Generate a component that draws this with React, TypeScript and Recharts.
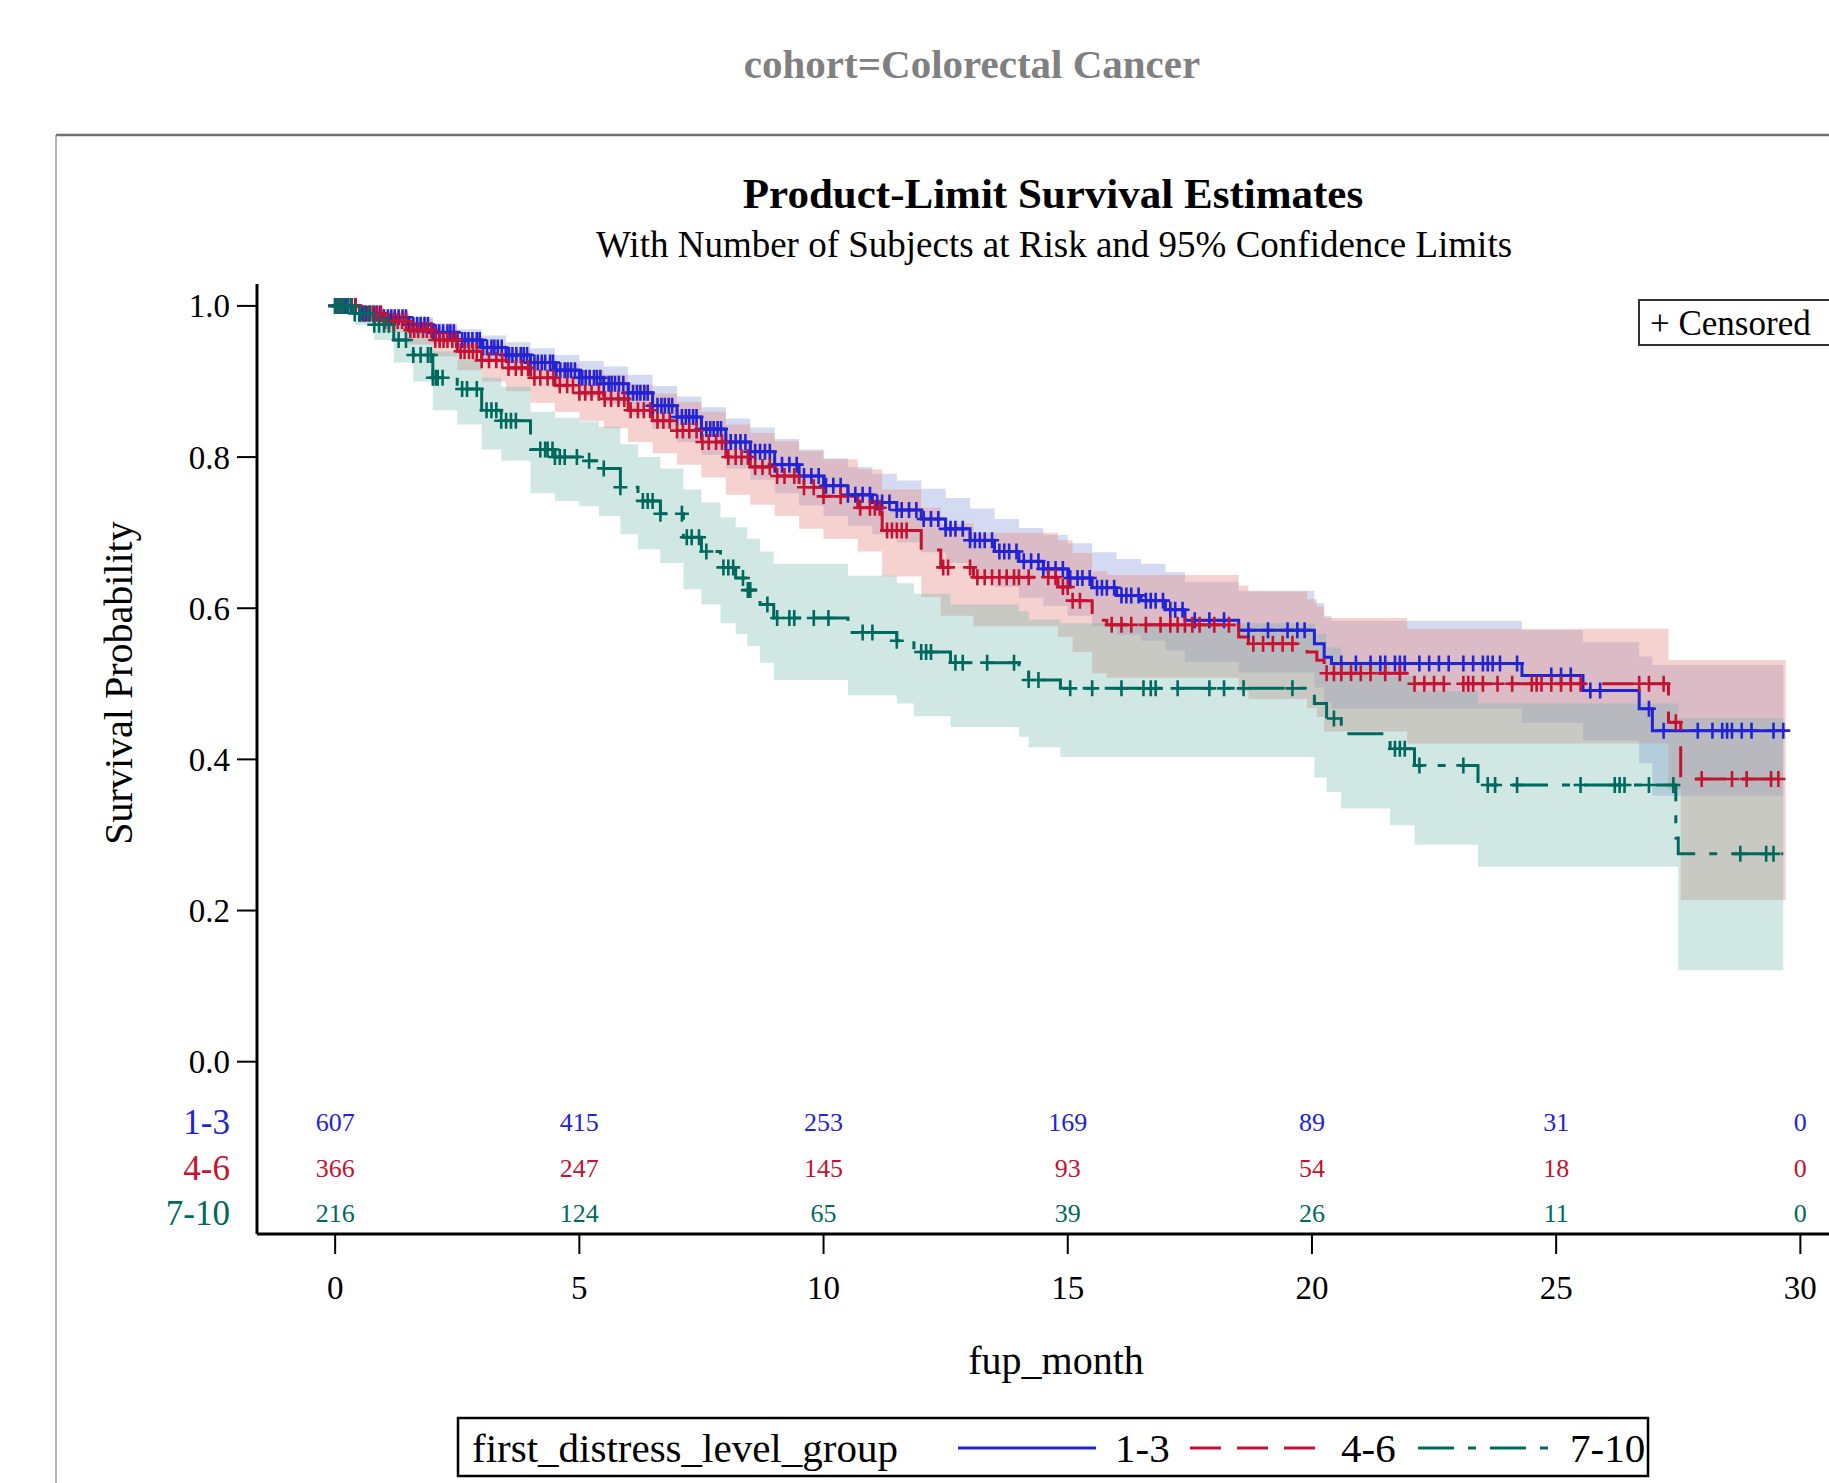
import React from 'react';
import { ComposedChart, Area, Line, Scatter, XAxis, YAxis } from 'recharts';

const FONT = '"Liberation Serif", "Times New Roman", serif';

const BLUE = '#2323D6';
const RED = '#C41230';
const GREEN = '#00695E';

// group labels and number at risk table
const groups = ['1-3', '4-6', '7-10'];
const riskTimes = [0, 5, 10, 15, 20, 25, 30];
const riskBlue = [607, 415, 253, 169, 89, 31, 0];
const riskRed = [366, 247, 145, 93, 54, 18, 0];
const riskGreen = [216, 124, 65, 39, 26, 11, 0];
const riskRowY = [-0.08, -0.141, -0.2];

const xTicks = [0, 5, 10, 15, 20, 25, 30];
const yTicks = [0, 0.2, 0.4, 0.6, 0.8, 1.0];

// 1-3
const blueTime = [0, 0.5, 1, 1.5, 2, 2.5, 3, 3.5, 4, 4.5, 5, 5.5, 6, 6.5, 7, 7.5, 8, 8.5, 9, 9.5, 10, 10.5, 11, 11.5, 12, 12.5, 13, 13.5, 14, 14.5, 15, 15.5, 16, 16.5, 17, 17.4, 18.5, 20.05, 20.25, 20.4, 24.3, 25.55, 26.7, 26.97, 29.65];
const blueSurv = [1, 0.99, 0.985, 0.975, 0.965, 0.955, 0.945, 0.935, 0.925, 0.915, 0.905, 0.897, 0.885, 0.868, 0.853, 0.837, 0.82, 0.807, 0.79, 0.775, 0.762, 0.75, 0.74, 0.73, 0.718, 0.705, 0.69, 0.675, 0.662, 0.652, 0.64, 0.627, 0.617, 0.61, 0.598, 0.584, 0.571, 0.553, 0.535, 0.527, 0.511, 0.491, 0.467, 0.438, 0.438];
const blueLo = [1, 0.982, 0.975, 0.962, 0.95, 0.938, 0.926, 0.914, 0.902, 0.891, 0.879, 0.87, 0.856, 0.837, 0.82, 0.803, 0.785, 0.77, 0.752, 0.736, 0.722, 0.709, 0.698, 0.687, 0.674, 0.66, 0.644, 0.628, 0.614, 0.603, 0.59, 0.576, 0.565, 0.557, 0.544, 0.529, 0.515, 0.495, 0.476, 0.467, 0.448, 0.425, 0.395, 0.352, 0.352];
const blueHi = [1, 0.996, 0.993, 0.985, 0.977, 0.969, 0.961, 0.952, 0.944, 0.935, 0.927, 0.92, 0.909, 0.894, 0.88, 0.866, 0.851, 0.839, 0.824, 0.81, 0.798, 0.787, 0.778, 0.769, 0.758, 0.746, 0.732, 0.718, 0.706, 0.697, 0.686, 0.674, 0.665, 0.659, 0.648, 0.635, 0.623, 0.607, 0.59, 0.583, 0.571, 0.555, 0.536, 0.525, 0.525];
const blueCensor = [
  0, 0.05, 0.12, 0.2, 0.27, 0.33, 0.41, 0.5, 0.56, 0.63, 0.71, 0.8, 0.86, 0.92, 1.0, 1.08, 1.15, 1.22, 1.3, 1.38, 1.45, 1.52, 1.6, 1.68, 1.75, 1.83, 1.9, 2.0,
  2.06, 2.13, 2.21, 2.3, 2.36, 2.43, 2.5, 2.6, 2.66, 2.73, 2.81, 2.9, 2.96, 3.03, 3.11, 3.2, 3.26, 3.33, 3.41, 3.5, 3.56, 3.63, 3.71, 3.8, 3.86, 3.93, 4.0,
  4.08, 4.15, 4.23, 4.3, 4.4, 4.46, 4.53, 4.61, 4.7, 4.76, 4.83, 4.91, 5.0, 5.06, 5.13, 5.21, 5.3, 5.36, 5.43, 5.5, 5.6, 5.66, 5.73, 5.81, 5.9, 6.0,
  6.1, 6.18, 6.25, 6.33, 6.4, 6.5, 6.6, 6.68, 6.75, 6.83, 6.9, 7.0, 7.1, 7.18, 7.25, 7.33, 7.4, 7.5, 7.6, 7.68, 7.75, 7.83, 7.9, 8.0, 8.1, 8.2, 8.3, 8.4,
  8.5, 8.6, 8.7, 8.8, 8.9, 9.0, 9.15, 9.3, 9.45, 9.6, 9.75, 9.9, 10.05, 10.2, 10.35, 10.5, 10.65, 10.8, 10.95, 11.1, 11.2, 11.35, 11.5, 11.6, 11.75,
  11.9, 12.05, 12.2, 12.35, 12.5, 12.6, 12.7, 12.85, 13.0, 13.1, 13.2, 13.3, 13.45, 13.6, 13.7, 13.8, 13.95, 14.1, 14.25, 14.4, 14.5, 14.6, 14.75, 14.9,
  15.05, 15.2, 15.3, 15.45, 15.6, 15.7, 15.8, 15.95, 16.1, 16.2, 16.3, 16.45, 16.6, 16.7, 16.8, 16.95, 17.1, 17.2, 17.35, 17.6, 17.9, 18.2, 18.7, 19.1,
  19.5, 19.7, 19.85, 20.6, 20.9, 21.2, 21.4, 21.5, 21.7, 21.8, 21.9, 22.2, 22.4, 22.6, 22.8, 23.1, 23.3, 23.5, 23.6, 23.7, 23.85, 24.2, 24.9, 25.1,
  25.3, 25.7, 25.9, 26.9, 27.2, 27.9, 28.2, 28.4, 28.5, 28.6, 28.8, 29.0, 29.45, 29.65,
];

// 4-6
const redTime = [0, 0.5, 1, 1.5, 2, 2.5, 3, 3.5, 4, 4.5, 5, 5.5, 6, 6.5, 7, 7.5, 8, 8.5, 9, 9.5, 10, 10.7, 11.2, 12, 12.4, 13.07, 14.8, 15.1, 15.5, 15.8, 18.5, 18.7, 19.9, 20.1, 20.25, 21.95, 27.3, 27.55, 29.7];
const redSurv = [1, 0.99, 0.98, 0.968, 0.955, 0.94, 0.928, 0.918, 0.905, 0.895, 0.885, 0.877, 0.862, 0.848, 0.835, 0.82, 0.8, 0.787, 0.775, 0.76, 0.748, 0.733, 0.703, 0.677, 0.654, 0.641, 0.628, 0.61, 0.584, 0.578, 0.562, 0.553, 0.542, 0.531, 0.514, 0.5, 0.449, 0.374, 0.374];
const redLo = [1, 0.978, 0.965, 0.949, 0.933, 0.915, 0.9, 0.887, 0.872, 0.86, 0.848, 0.838, 0.82, 0.805, 0.79, 0.773, 0.75, 0.737, 0.722, 0.705, 0.692, 0.675, 0.642, 0.615, 0.59, 0.576, 0.562, 0.542, 0.514, 0.508, 0.49, 0.48, 0.468, 0.456, 0.437, 0.421, 0.36, 0.214, 0.214];
const redHi = [1, 0.997, 0.991, 0.983, 0.972, 0.96, 0.95, 0.942, 0.931, 0.923, 0.915, 0.909, 0.896, 0.884, 0.873, 0.86, 0.843, 0.832, 0.821, 0.808, 0.797, 0.784, 0.757, 0.733, 0.712, 0.7, 0.69, 0.673, 0.649, 0.644, 0.63, 0.622, 0.612, 0.602, 0.587, 0.573, 0.531, 0.531, 0.531];
const redCensor = [
  0, 0.08, 0.17, 0.25, 0.34, 0.42, 0.5, 0.6, 0.68, 0.77, 0.85, 0.94, 1.02, 1.1, 1.2, 1.28, 1.37, 1.45, 1.54, 1.62, 1.7, 1.8, 1.88, 1.97, 2.05, 2.14, 2.22,
  2.3, 2.4, 2.48, 2.57, 2.65, 2.74, 2.82, 2.9, 3.0, 3.15, 3.3, 3.42, 3.55, 3.7, 3.82, 3.95, 4.08, 4.2, 4.35, 4.47, 4.6, 4.75, 4.87, 5.0, 5.12, 5.25,
  5.4, 5.52, 5.65, 5.8, 5.92, 6.05, 6.2, 6.32, 6.45, 6.6, 6.72, 6.85, 7.0, 7.12, 7.25, 7.4, 7.52, 7.65, 7.8, 7.92, 8.05, 8.2, 8.32, 8.45, 8.6, 8.75,
  8.9, 9.05, 9.2, 9.4, 9.6, 9.8, 10.0, 10.35, 10.75, 10.95, 11.05, 11.15, 11.3, 11.4, 11.5, 11.6, 11.7, 12.45, 12.55, 13.0, 13.15, 13.3, 13.45, 13.6,
  13.75, 13.9, 14.0, 14.2, 14.6, 14.75, 14.9, 15.0, 15.1, 15.25, 15.9, 16.1, 16.3, 16.6, 16.9, 17.1, 17.25, 17.4, 17.55, 17.7, 18.0, 18.3, 18.8, 19.0,
  19.2, 19.4, 19.6, 20.3, 20.45, 20.6, 20.8, 21.0, 21.2, 21.5, 21.8, 22.1, 22.3, 22.5, 22.7, 23.1, 23.2, 23.3, 23.5, 23.8, 24.1, 24.5, 24.6, 24.7, 24.9,
  25.1, 25.3, 25.5, 26.7, 26.9, 27.2, 27.45, 27.98, 28.6, 28.9, 29.4, 29.55,
];

// 7-10
const greenTime = [0, 0.4, 0.8, 1.2, 1.6, 2, 2.5, 3, 3.4, 4, 4.5, 5, 5.4, 5.84, 6.2, 6.66, 7.13, 7.5, 7.89, 8.2, 8.44, 8.7, 8.98, 10.5, 11.5, 11.85, 12.6, 14, 14.2, 14.85, 20.05, 20.3, 20.6, 21.6, 22.1, 23.4, 27.45, 27.5, 29.65];
const greenSurv = [1, 0.99, 0.975, 0.955, 0.935, 0.905, 0.89, 0.862, 0.848, 0.81, 0.8, 0.795, 0.785, 0.76, 0.742, 0.725, 0.694, 0.675, 0.654, 0.64, 0.624, 0.605, 0.587, 0.568, 0.557, 0.542, 0.528, 0.518, 0.505, 0.494, 0.474, 0.454, 0.434, 0.414, 0.392, 0.366, 0.296, 0.275, 0.275];
const greenLo = [1, 0.975, 0.955, 0.925, 0.9, 0.862, 0.843, 0.81, 0.795, 0.752, 0.742, 0.735, 0.722, 0.698, 0.678, 0.66, 0.625, 0.605, 0.58, 0.566, 0.55, 0.528, 0.505, 0.485, 0.474, 0.457, 0.443, 0.43, 0.416, 0.403, 0.376, 0.357, 0.335, 0.313, 0.287, 0.258, 0.258, 0.121, 0.121];
const greenHi = [1, 1, 0.99, 0.978, 0.965, 0.94, 0.928, 0.905, 0.893, 0.86, 0.852, 0.847, 0.84, 0.817, 0.8, 0.785, 0.757, 0.74, 0.72, 0.707, 0.692, 0.675, 0.659, 0.643, 0.633, 0.619, 0.605, 0.596, 0.585, 0.58, 0.566, 0.548, 0.53, 0.51, 0.49, 0.474, 0.474, 0.454, 0.454];
const greenCensor = [
  0, 0.06, 0.12, 0.18, 0.25, 0.33, 0.4, 0.5, 0.6, 0.7, 0.8, 0.9, 1.0, 1.1, 1.3, 1.45, 1.6, 1.75, 1.9, 1.96, 2.0, 2.06, 2.1, 2.2, 2.6, 2.7, 2.9, 3.1,
  3.2, 3.3, 3.4, 3.5, 3.6, 3.7, 4.2, 4.3, 4.35, 4.45, 4.5, 4.6, 4.7, 4.95, 5.2, 5.5, 5.84, 6.3, 6.4, 6.5, 6.66, 7.1, 7.2, 7.3, 7.45, 7.6, 7.95, 8.05,
  8.15, 8.35, 8.45, 8.5, 8.85, 9.05, 9.3, 9.4, 9.8, 10.1, 10.8, 11.0, 11.5, 12.0, 12.1, 12.2, 12.7, 12.85, 13.35, 13.9, 14.2, 14.4, 15.05, 15.5, 16.1,
  16.55, 16.7, 16.8, 17.25, 17.9, 18.2, 18.6, 19.6, 20.45, 21.7, 21.8, 21.9, 22.2, 23.1, 23.6, 23.75, 24.2, 25.5, 26.2, 26.3, 26.4, 26.9, 27.4, 28.77,
  29.3, 29.45,
];

const steps = (time: number[], surv: number[], lo: number[], hi: number[]) =>
  time.map((t, i) => ({ t, s: surv[i], band: [lo[i], hi[i]] }));

// value of a step curve at time t
const valueAt = (time: number[], surv: number[], t: number) => {
  let v = surv[0];
  for (let i = 0; i < time.length; i++) {
    if (time[i] <= t + 1e-9) v = surv[i];
  }
  return v;
};

const censored = (cens: number[], time: number[], surv: number[]) =>
  cens.map(t => ({ t, s: valueAt(time, surv, t) }));

const riskRow = (counts: number[], row: number) =>
  riskTimes.map((t, i) => ({ t, s: riskRowY[row], n: counts[i] }));

const series = [
  { name: '1-3', color: BLUE, band: '#8496D6', bandOp: 0.35, dash: undefined, data: steps(blueTime, blueSurv, blueLo, blueHi), cens: censored(blueCensor, blueTime, blueSurv), risk: riskRow(riskBlue, 0) },
  { name: '4-6', color: RED, band: '#E58A80', bandOp: 0.38, dash: '31 16', data: steps(redTime, redSurv, redLo, redHi), cens: censored(redCensor, redTime, redSurv), risk: riskRow(riskRed, 1) },
  { name: '7-10', color: GREEN, band: '#6FB5AE', bandOp: 0.33, dash: '36 14 8 14', data: steps(greenTime, greenSurv, greenLo, greenHi), cens: censored(greenCensor, greenTime, greenSurv), risk: riskRow(riskGreen, 2) },
];

const plusShape = (color: string) => (props: any) => {
  const { cx, cy } = props;
  if (cx == null || cy == null) return <g />;
  return (
    <path
      d={`M${cx - 7},${cy}H${cx + 7}M${cx},${cy - 8}V${cy + 8}`}
      stroke={color}
      strokeWidth={2.6}
      fill="none"
    />
  );
};

const riskShape = (color: string) => (props: any) => {
  const { cx, cy, payload } = props;
  return (
    <text x={cx} y={cy} dy="0.35em" textAnchor="middle" fill={color} fontSize={26} fontFamily={FONT}>
      {payload.n}
    </text>
  );
};

const groupColors = [BLUE, RED, GREEN];

const YTick = (props: any) => {
  const { x, y, payload } = props;
  const v = payload.value;
  const row = riskRowY.indexOf(v);
  if (row >= 0) {
    return (
      <text x={x} y={y} dy="0.35em" textAnchor="end" fill={groupColors[row]} fontSize={35} fontFamily={FONT}>
        {groups[row]}
      </text>
    );
  }
  return (
    <g>
      <line x1={x + 7} x2={x + 27} y1={y} y2={y} stroke="#000" strokeWidth={2} />
      <text x={x} y={y} dy="0.35em" textAnchor="end" fill="#000" fontSize={33} fontFamily={FONT}>
        {Number(v).toFixed(1)}
      </text>
    </g>
  );
};

export default function App() {
  return (
    <div style={{ position: 'absolute', left: 0, top: 0, width: 1829, height: 1483, overflow: 'hidden', background: '#fff' }}>
      <div style={{ position: 'absolute', left: 0, top: 0 }}>
        <ComposedChart width={1900} height={1483} margin={{ top: 284, right: 21.5, bottom: 149, left: 137 }}>
          <XAxis
            dataKey="t"
            type="number"
            domain={[-1.6, 31.6]}
            allowDataOverflow
            ticks={xTicks}
            interval={0}
            tickSize={20}
            tickMargin={22}
            height={100}
            axisLine={{ stroke: '#000', strokeWidth: 3 }}
            tickLine={{ stroke: '#000', strokeWidth: 2 }}
            tick={{ fontSize: 33, fill: '#000', fontFamily: FONT }}
          />
          <XAxis
            xAxisId="top"
            orientation="top"
            type="number"
            domain={[-1.6, 31.6]}
            height={0}
            tick={false}
            tickLine={false}
            axisLine={{ stroke: '#777', strokeWidth: 3 }}
          />
          <YAxis
            type="number"
            domain={[-0.228, 1.029]}
            allowDataOverflow
            ticks={[...yTicks, ...riskRowY]}
            interval={0}
            width={120}
            tickSize={20}
            tickMargin={7}
            tickLine={false}
            tick={<YTick />}
            axisLine={{ stroke: '#000', strokeWidth: 3 }}
          />
          {series.map(s => (
            <Area
              key={'band' + s.name}
              data={s.data}
              dataKey="band"
              type="stepAfter"
              stroke="none"
              fill={s.band}
              fillOpacity={s.bandOp}
              dot={false}
              activeDot={false}
              isAnimationActive={false}
            />
          ))}
          {series.map(s => (
            <Line
              key={'line' + s.name}
              data={s.data}
              dataKey="s"
              type="stepAfter"
              stroke={s.color}
              strokeWidth={3}
              strokeDasharray={s.dash}
              dot={false}
              activeDot={false}
              isAnimationActive={false}
            />
          ))}
          {series.map(s => (
            <Scatter
              key={'cens' + s.name}
              data={s.cens}
              dataKey="s"
              shape={plusShape(s.color)}
              isAnimationActive={false}
            />
          ))}
          {series.map(s => (
            <Scatter
              key={'risk' + s.name}
              data={s.risk}
              dataKey="s"
              shape={riskShape(s.color)}
              isAnimationActive={false}
            />
          ))}
        </ComposedChart>
      </div>
      <svg width={1829} height={1483} style={{ position: 'absolute', left: 0, top: 0, pointerEvents: 'none' }} fontFamily={FONT}>
        <line x1={56} y1={135} x2={1829} y2={135} stroke="#707070" strokeWidth={2.5} />
        <line x1={56} y1={135} x2={56} y2={1483} stroke="#9a9a9a" strokeWidth={1.5} />
        <text x={972} y={78} textAnchor="middle" fontSize={41} fontWeight="bold" fill="#808080">cohort=Colorectal Cancer</text>
        <text x={1053} y={208} textAnchor="middle" fontSize={43} fontWeight="bold" fill="#000">Product-Limit Survival Estimates</text>
        <text x={1054} y={257} textAnchor="middle" fontSize={37} fill="#000">With Number of Subjects at Risk and 95% Confidence Limits</text>
        <text x={132} y={683} textAnchor="middle" fontSize={40} fill="#000" transform="rotate(-90 132 683)">Survival Probability</text>
        <text x={1056} y={1374} textAnchor="middle" fontSize={40} fill="#000">fup_month</text>

        <rect x={1639} y={300} width={240} height={45} fill="#fff" stroke="#333" strokeWidth={2} />
        <text x={1650} y={335} fontSize={35} fill="#000">+ Censored</text>

        <rect x={458} y={1418} width={1190} height={58} fill="#fff" stroke="#000" strokeWidth={2.5} />
        <text x={472} y={1462} fontSize={41} fill="#000">first_distress_level_group</text>
        <line x1={958} x2={1096} y1={1448} y2={1448} stroke={BLUE} strokeWidth={3} />
        <text x={1115} y={1462} fontSize={41} fill="#000">1-3</text>
        <line x1={1190} x2={1315} y1={1448} y2={1448} stroke={RED} strokeWidth={3} strokeDasharray="31 16" />
        <text x={1341} y={1462} fontSize={41} fill="#000">4-6</text>
        <line x1={1418} x2={1551} y1={1448} y2={1448} stroke={GREEN} strokeWidth={3} strokeDasharray="36 14 8 14" />
        <text x={1570} y={1462} fontSize={41} fill="#000">7-10</text>
      </svg>
    </div>
  );
}
